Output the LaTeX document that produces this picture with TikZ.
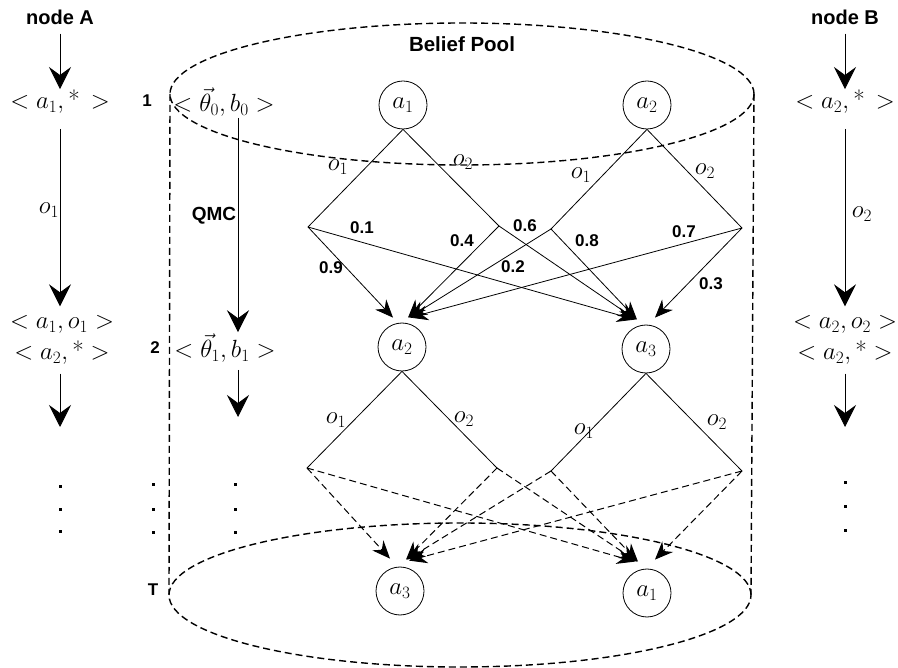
\documentclass[tikz,border=0pt]{standalone}
\usepackage{fontspec}
\newfontfamily\lab{Liberation Sans}
\usetikzlibrary{arrows.meta}
\begin{document}
\begin{tikzpicture}[x=1pt,y=-1pt,
  mt/.style={font=\fontsize{25}{31}\selectfont, inner sep=1pt, align=center},
  bl/.style={font=\lab\bfseries\fontsize{20}{22}\selectfont, inner sep=1pt},
  num/.style={font=\lab\bfseries\fontsize{17}{19}\selectfont, inner sep=1pt},
  circ/.style={draw, circle, minimum size=48pt, inner sep=0pt, line width=0.8pt, font=\fontsize{26}{28}\selectfont},
  bigarr/.style={-{Stealth[length=22pt,width=22pt,inset=8pt]}, line width=0.8pt},
  tarr/.style={-{Stealth[length=18pt,width=15pt,inset=6pt]}, line width=0.8pt},
  branch/.style={line width=0.8pt},
  dshline/.style={line width=1.4pt, dash pattern=on 7pt off 4pt},
  dtarr/.style={-{Stealth[length=18pt,width=15pt,inset=6pt]}, line width=1pt, dash pattern=on 7pt off 4pt}
]
\useasboundingbox (0,0) rectangle (898,668);

% cylinder
\draw[dshline] (462,94) ellipse [x radius=292pt, y radius=71pt];
\draw[dshline] (460,595) ellipse [x radius=291pt, y radius=72pt];
\coordinate (cTL) at (170,94);
\coordinate (cBL) at (169,595);
\coordinate (cTR) at (754,94);
\coordinate (cBR) at (751,595);
\draw[dshline] (cTL) -- (cBL);
\draw[dshline] (cTR) -- (cBR);
\node[font=\lab\bfseries\fontsize{20.5}{22}\selectfont] (bp) at (462,44) {Belief Pool};

% left column (node A)
\node[bl] (nA) at (60,17) {node A};
\node[mt] (A0) at (60,102) {$<a_1,\mbox{*}\,>$};
\node[mt] (A1) at (62,340) {$<a_1,o_1>$\\$<a_2,\mbox{*}>$};
\coordinate (Aend) at (60,427);
\draw[bigarr, shorten <=8pt] (nA) -- (A0);
\draw[bigarr, shorten <=14pt, shorten >=8pt] (A0.south -| 60,0) -- (A1.north -| 60,0);
\node[mt] (oA) at (49,210) {$o_1$};
\draw[bigarr, shorten <=8pt] (A1.south -| 60,0) -- (Aend);

% numbers
\node[num] (n1) at (147,101) {1};
\node[num] (n2) at (155,348) {2};
\node[num] (nT) at (153,590) {T};

% middle column
\node[mt] (T0) at (224,102) {$<\vec{\theta}_0,b_0>$};
\node[mt] (T1) at (225,348) {$<\vec{\theta}_1,b_1>$};
\coordinate (Tend) at (238,417);
\node[font=\lab\bfseries\fontsize{19}{21}\selectfont] (qmc) at (214,216) {QMC};
\draw[bigarr] (T0.south -| 238,0) -- (T1.north -| 238,0);
\draw[bigarr, shorten <=6pt] (T1.south -| 238,0) -- (Tend);

% right column (node B)
\node[bl] (nB) at (845,17) {node B};
\node[mt] (B0) at (845,102) {$<a_2,\mbox{*}\,>$};
\node[mt] (B1) at (845,340) {$<a_2,o_2>$\\$<a_2,\mbox{*}>$};
\coordinate (Bend) at (845,427);
\draw[bigarr, shorten <=8pt] (nB) -- (B0);
\draw[bigarr, shorten <=14pt, shorten >=8pt] (B0) -- (B1);
\node[mt] (oB) at (862,214) {$o_2$};
\draw[bigarr, shorten <=8pt] (B1) -- (Bend);

% dots
\foreach \x/\ya/\yb/\yc in {60/487/510/532, 153/485/510/533, 235/485/510/533, 845/483/507/531}{
  \fill (\x-1.5,\ya-1.5) rectangle (\x+1.5,\ya+1.5);
  \fill (\x-1.5,\yb-1.5) rectangle (\x+1.5,\yb+1.5);
  \fill (\x-1.5,\yc-1.5) rectangle (\x+1.5,\yc+1.5);
}

% tree nodes
\node[circ] (a1t) at (403,105) {$a_1$};
\node[circ] (a2t) at (647,105) {$a_2$};
\node[circ] (a2m) at (402,347) {$a_2$};
\node[circ] (a3m) at (646,349) {$a_3$};
\node[circ] (a3b) at (400,591) {$a_3$};
\node[circ] (a1b) at (647,593) {$a_1$};

\coordinate (L1) at (308,227);
\coordinate (R1) at (499,226);
\coordinate (L2) at (551,229);
\coordinate (R2) at (742,228);
\coordinate (L3) at (307,468);
\coordinate (R3) at (497,468);
\coordinate (L4) at (551,471);
\coordinate (R4) at (742,471);

% branches
\draw[branch] (a1t.south) -- (L1);
\draw[branch] (a1t.south) -- (R1);
\draw[branch] (a2t.south) -- (L2);
\draw[branch] (a2t.south) -- (R2);
\draw[branch] (a2m.south) -- (L3);
\draw[branch] (a2m.south) -- (R3);
\draw[branch] (a3m.south) -- (L4);
\draw[branch] (a3m.south) -- (R4);
\node[mt] (ob1) at (338,167) {$o_1$};
\node[mt] (ob2) at (463,162) {$o_2$};
\node[mt] (ob3) at (581,175) {$o_1$};
\node[mt] (ob4) at (705,171) {$o_2$};
\node[mt] (ob5) at (336,420) {$o_1$};
\node[mt] (ob6) at (464,419) {$o_2$};
\node[mt] (ob7) at (584,431) {$o_1$};
\node[mt] (ob8) at (717,422) {$o_2$};

% transition arrows (solid)
\draw[tarr] (L1) -- ([shift={(-9,-5)}]a2m.north);
\draw[tarr] (L1) -- ([shift={(-11,-5)}]a3m.north);
\draw[tarr] (R1) -- ([shift={(6,-5)}]a2m.north);
\draw[tarr] (R1) -- ([shift={(-10,-5)}]a3m.north);
\draw[tarr] (L2) -- ([shift={(7,-5)}]a2m.north);
\draw[tarr] (L2) -- ([shift={(-9,-5)}]a3m.north);
\draw[tarr] (R2) -- ([shift={(8,-5)}]a2m.north);
\draw[tarr] (R2) -- ([shift={(9,-7)}]a3m.north);

% probability labels
\node[num] (p1) at (362,228) {0.1};
\node[num] (p9) at (331,268) {0.9};
\node[num] (p4) at (462,241) {0.4};
\node[num] (p6) at (525,226) {0.6};
\node[num] (p8) at (587,241) {0.8};
\node[num] (p2) at (513,267) {0.2};
\node[num] (p7) at (684,232) {0.7};
\node[num] (p3) at (711,284) {0.3};

% transition arrows (dashed)
\draw[dtarr] (L3) -- ([shift={(-10,-8)}]a3b.north);
\draw[dtarr] (L3) -- ([shift={(-12,-7)}]a1b.north);
\draw[dtarr] (R3) -- ([shift={(6,-7)}]a3b.north);
\draw[dtarr] (R3) -- ([shift={(-10,-7)}]a1b.north);
\draw[dtarr] (L4) -- ([shift={(7,-7)}]a3b.north);
\draw[dtarr] (L4) -- ([shift={(-9,-7)}]a1b.north);
\draw[dtarr] (R4) -- ([shift={(9,-6)}]a3b.north);
\draw[dtarr] (R4) -- ([shift={(8,-9)}]a1b.north);
\end{tikzpicture}
\end{document}
